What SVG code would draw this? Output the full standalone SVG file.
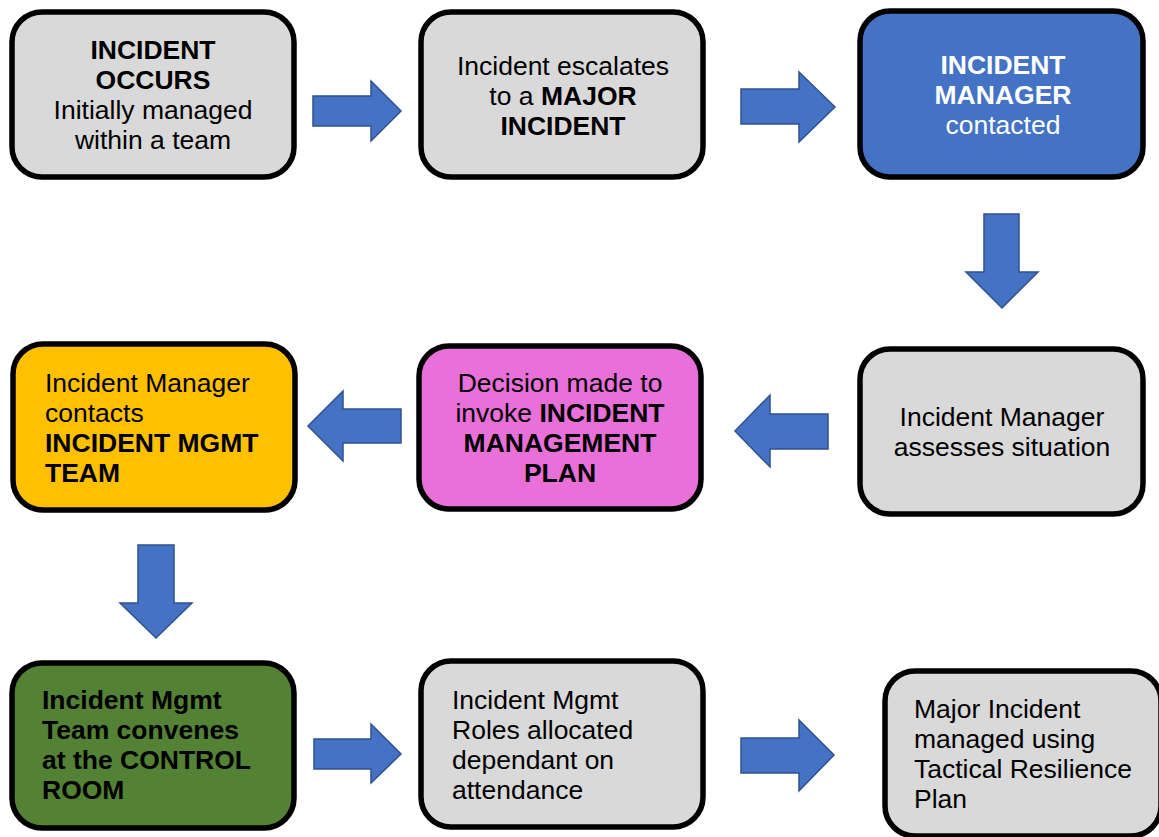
<svg xmlns="http://www.w3.org/2000/svg" width="1159" height="837" viewBox="0 0 1159 837">
<style>
.box{stroke:#000;stroke-width:5.5}
.gray{fill:#D9D9D9}
.t{font-family:"Liberation Sans",Arial,sans-serif;font-size:26.5px;fill:#000}
.c{text-anchor:middle}
.b{font-weight:bold}
.w{fill:#fff}
.arr{fill:#4472C4;stroke:#2F528F;stroke-width:1.5;stroke-linejoin:miter}
</style>
<rect width="1159" height="837" fill="#fff"/>
<g id="n1">
<rect class="box gray" x="12" y="12" width="282" height="165" rx="30"/>
<text class="t c" x="153" y="59"><tspan class="b">INCIDENT</tspan><tspan class="b" x="153" dy="30">OCCURS</tspan><tspan x="153" dy="30">Initially managed</tspan><tspan x="153" dy="30">within a team</tspan></text>
</g>
<g id="n2">
<rect class="box gray" x="421" y="12" width="282" height="165" rx="30"/>
<text class="t c" x="563" y="75">Incident escalates<tspan x="563" dy="30">to a <tspan class="b">MAJOR</tspan></tspan><tspan class="b" x="563" dy="30">INCIDENT</tspan></text>
</g>
<g id="n3">
<rect class="box" fill="#4472C4" x="860" y="11" width="283" height="166" rx="30"/>
<text class="t c w" x="1003" y="74"><tspan class="b">INCIDENT</tspan><tspan class="b" x="1003" dy="30">MANAGER</tspan><tspan x="1003" dy="30">contacted</tspan></text>
</g>
<g id="n4">
<rect class="box gray" x="860" y="349" width="283" height="165" rx="30"/>
<text class="t c" x="1002" y="426">Incident Manager<tspan x="1002" dy="30">assesses situation</tspan></text>
</g>
<g id="n5">
<rect class="box" fill="#E96FD9" x="419" y="346" width="282" height="163" rx="30"/>
<text class="t c" x="560" y="392">Decision made to<tspan x="560" dy="30">invoke <tspan class="b">INCIDENT</tspan></tspan><tspan class="b" x="560" dy="30">MANAGEMENT</tspan><tspan class="b" x="560" dy="30">PLAN</tspan></text>
</g>
<g id="n6">
<rect class="box" fill="#FFC000" x="13" y="344" width="282" height="166" rx="30"/>
<text class="t" x="45" y="392">Incident Manager<tspan x="45" dy="30">contacts</tspan><tspan class="b" x="45" dy="30">INCIDENT MGMT</tspan><tspan class="b" x="45" dy="30">TEAM</tspan></text>
</g>
<g id="n7">
<rect class="box" fill="#548235" x="12" y="663" width="282" height="165" rx="30"/>
<text class="t b" x="42" y="709">Incident Mgmt<tspan x="42" dy="30">Team convenes</tspan><tspan x="42" dy="30">at the CONTROL</tspan><tspan x="42" dy="30">ROOM</tspan></text>
</g>
<g id="n8">
<rect class="box gray" x="421" y="661" width="282" height="166" rx="30"/>
<text class="t" x="452" y="709">Incident Mgmt<tspan x="452" dy="30">Roles allocated</tspan><tspan x="452" dy="30">dependant on</tspan><tspan x="452" dy="30">attendance</tspan></text>
</g>
<g id="n9">
<rect class="box gray" x="885" y="671" width="276" height="165" rx="30"/>
<text class="t" x="914" y="718">Major Incident<tspan x="914" dy="30">managed using</tspan><tspan x="914" dy="30">Tactical Resilience</tspan><tspan x="914" dy="30">Plan</tspan></text>
</g>
<g id="connectors">
<polygon class="arr" points="313,96 371,96 371,81 401,111 371,141 371,126 313,126"/>
<polygon class="arr" points="741,89 799,89 799,72 835,107 799,142 799,124 741,124"/>
<polygon class="arr" points="984,214 1019,214 1019,272 1038,272 1002,308 966,272 984,272"/>
<polygon class="arr" points="828,414 770,414 770,395 735,431 770,467 770,449 828,449"/>
<polygon class="arr" points="401,409 343,409 343,391 308,426 343,461 343,443 401,443"/>
<polygon class="arr" points="138,545 174,545 174,603 192,603 156,638 120,603 138,603"/>
<polygon class="arr" points="314,739 371,739 371,724 401,754 371,783 371,769 314,769"/>
<polygon class="arr" points="741,738 799,738 799,720 834,755 799,791 799,773 741,773"/>
</g>
</svg>
